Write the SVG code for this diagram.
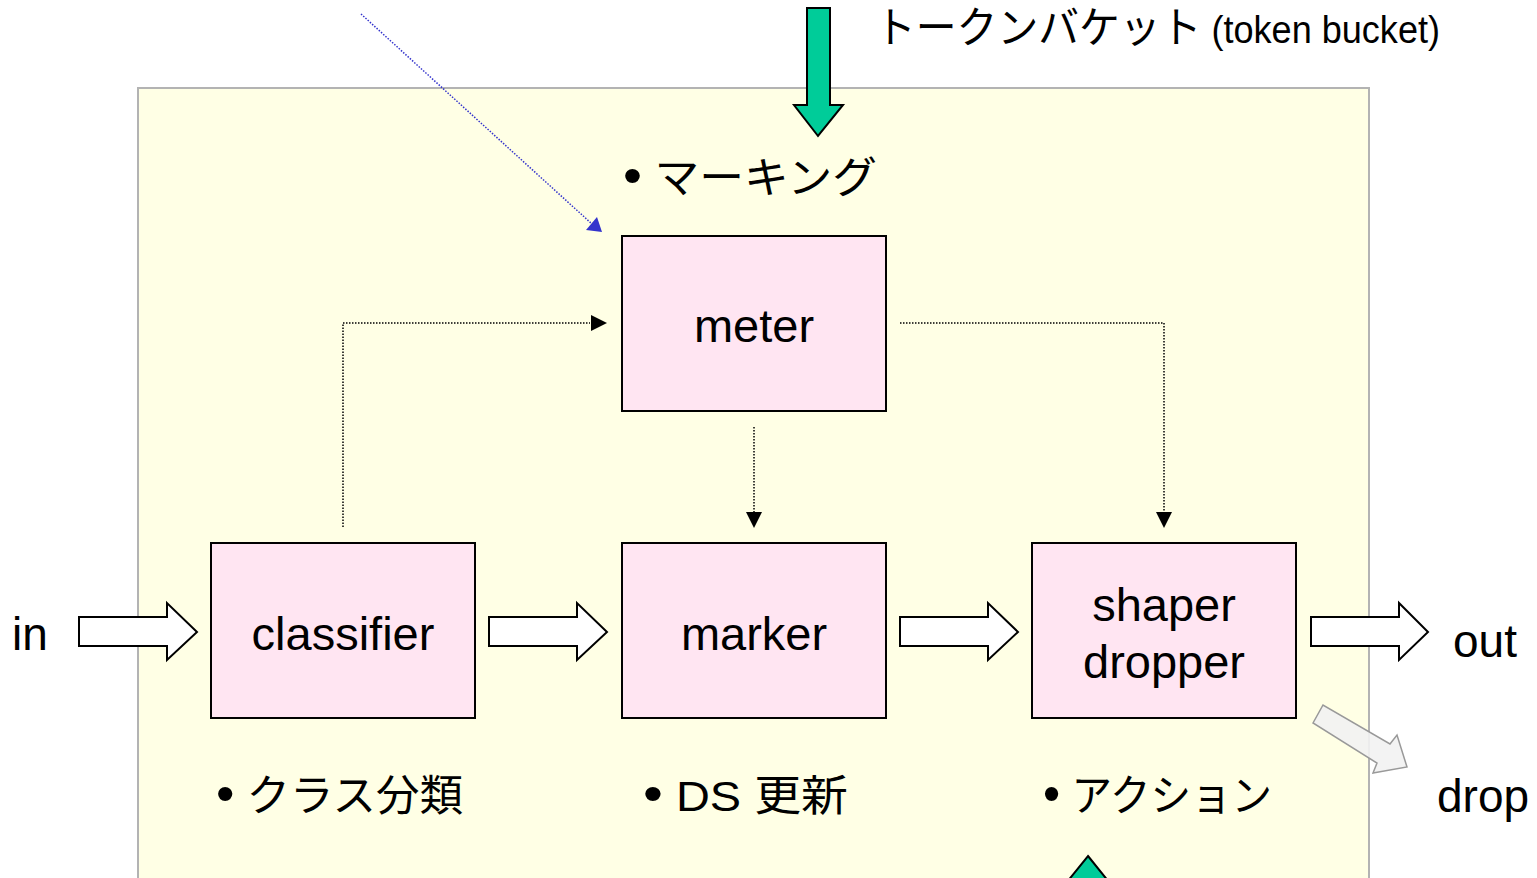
<svg xmlns="http://www.w3.org/2000/svg" width="1537" height="878" viewBox="0 0 1537 878">
<style>
.box{fill:#ffe5f2;stroke:#000;stroke-width:2}
.lbl{font-family:"Liberation Sans",Arial,sans-serif;font-size:47px;fill:#000;text-anchor:middle}
.lat{font-family:"Liberation Sans",Arial,sans-serif;font-size:46px;fill:#000}
.jp{font-family:"Liberation Sans","Noto Sans CJK JP",sans-serif;font-size:43px;fill:#000}
.bul{font-family:"Liberation Sans",Arial,sans-serif;font-size:52px}
.blk{fill:#fff;stroke:#000;stroke-width:2}
.dot{fill:none;stroke:#000;stroke-width:1.5;stroke-dasharray:1.5 1.5}
.grn{fill:#00cc99;stroke:#000;stroke-width:2}
</style>
<rect x="0" y="0" width="1537" height="878" fill="#fff"/>
<rect id="panel" x="138" y="88" width="1231" height="800" fill="#ffffe5" stroke="#b3b3b3" stroke-width="2"/>
<g id="connectors">
<path class="dot" d="M343,527 V323 H590"/>
<path d="M591,315 L607,323 L591,331 z" fill="#000"/>
<path class="dot" d="M900,323 H1164 V512"/>
<path d="M1156,512 L1164,528 L1172,512 z" fill="#000"/>
<path class="dot" d="M754,427 V512"/>
<path d="M746,512 L754,528 L762,512 z" fill="#000"/>
<line x1="361" y1="14" x2="592" y2="224" stroke="#3333cc" stroke-width="1.5" stroke-dasharray="1.5 1.5"/>
<path d="M586,230 L602,232 L597,217 z" fill="#3333cc"/>
<path class="blk" d="M79,617 H167 V603 L197,632 L167,660 V646 H79 z"/>
<path class="blk" d="M489,617 H577 V603 L607,632 L577,660 V646 H489 z"/>
<path class="blk" d="M900,617 H988 V603 L1018,632 L988,660 V646 H900 z"/>
<path class="blk" d="M1311,617 H1399 V603 L1428,632 L1399,660 V646 H1311 z"/>
<path d="M1313,723 L1323,705 L1390,744 L1397,735 L1407,767 L1373,773 L1377,763 z" fill="#f2f2f2" fill-opacity="0.9" stroke="#999" stroke-width="1.5"/>
<path class="grn" d="M807,8 H830 V105 H843 L818,136 L794,105 H807 z"/>
<path class="grn" d="M1088,856 L1113,887 H1063 z"/>
</g>
<g id="meter"><rect class="box" x="622" y="236" width="264" height="175"/><text class="lbl" x="754" y="342">meter</text></g>
<g id="classifier"><rect class="box" x="211" y="543" width="264" height="175"/><text class="lbl" x="343" y="650">classifier</text></g>
<g id="marker"><rect class="box" x="622" y="543" width="264" height="175"/><text class="lbl" x="754" y="650">marker</text></g>
<g id="shaper"><rect class="box" x="1032" y="543" width="264" height="175"/><text class="lbl" x="1164" y="621">shaper</text><text class="lbl" x="1164" y="678">dropper</text></g>
<g id="labels">
<text class="lat" x="12" y="650">in</text>
<text class="lat" x="1453" y="657">out</text>
<text class="lat" x="1437" y="812">drop</text>
<text class="jp" x="875" y="43" font-size="34" textLength="565" lengthAdjust="spacingAndGlyphs">トークンバケット<tspan font-family="Liberation Sans, Arial, sans-serif" font-size="38"> (token bucket)</tspan></text>
<text class="jp" x="623" y="193" textLength="254" lengthAdjust="spacingAndGlyphs"><tspan class="bul">•</tspan> マーキング</text>
<text class="jp" x="216" y="811" textLength="247" lengthAdjust="spacingAndGlyphs"><tspan class="bul">•</tspan> クラス分類</text>
<text class="jp" x="643" y="811" textLength="205" lengthAdjust="spacingAndGlyphs"><tspan class="bul">•</tspan> DS 更新</text>
<text class="jp" x="1043" y="811" textLength="229" lengthAdjust="spacingAndGlyphs"><tspan class="bul">•</tspan> アクション</text>
</g>
</svg>
